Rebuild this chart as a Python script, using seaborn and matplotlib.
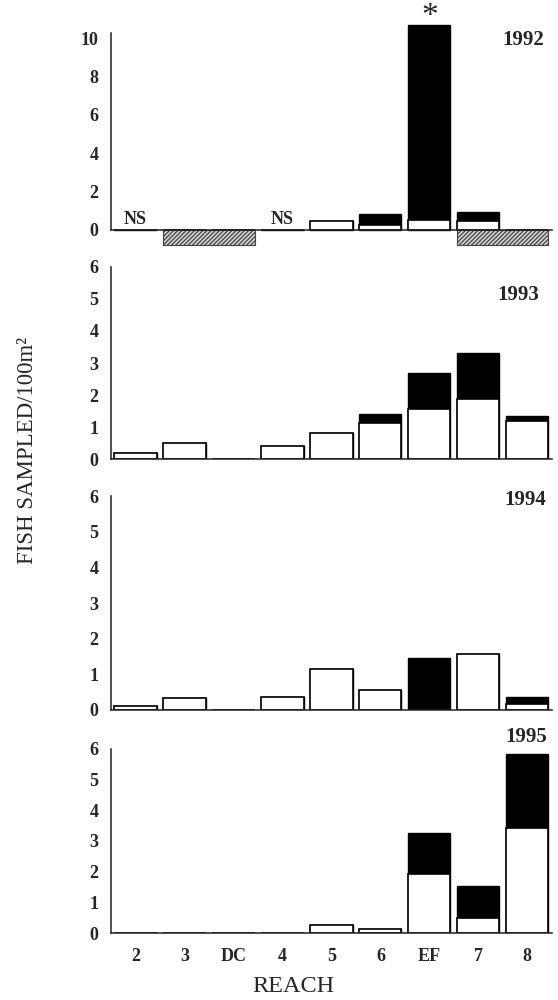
import matplotlib
matplotlib.use("Agg")
import matplotlib.pyplot as plt
import seaborn as sns
import numpy as np

# ---------------- data ----------------
reaches = ["2", "3", "DC", "4", "5", "6", "EF", "7", "8"]
years = ["1992", "1993", "1994", "1995"]

# lower (white) portion and total (white + black) of each stacked bar
white_1992 = [0, 0, 0, 0, 0.48, 0.25, 0.52, 0.45, 0]
total_1992 = [0, 0, 0, 0, 0.48, 0.82, 10.7, 0.95, 0]
white_1993 = [0.21, 0.50, 0, 0.42, 0.83, 1.12, 1.58, 1.89, 1.18]
total_1993 = [0.21, 0.50, 0, 0.42, 0.83, 1.41, 2.68, 3.30, 1.36]
white_1994 = [0.11, 0.35, 0, 0.37, 1.16, 0.57, 0, 1.58, 0.17]
total_1994 = [0.11, 0.35, 0, 0.37, 1.16, 0.57, 1.45, 1.58, 0.37]
white_1995 = [0, 0, 0, 0, 0.25, 0.13, 1.93, 0.49, 3.42]
total_1995 = [0, 0, 0, 0, 0.25, 0.13, 3.26, 1.52, 5.84]

not_sampled_1992 = ["2", "4"]
hatched_groups_1992 = [("3", "DC"), ("7", "8")]
hatched_depth_1992 = -0.78
starred_1992 = "EF"

yticks_1992 = [0, 2, 4, 6, 8, 10]
yticks_other = [0, 1, 2, 3, 4, 5, 6]

# ---------------- style ----------------
sns.set_style("white")
plt.rcParams["font.family"] = ["Liberation Serif", "DejaVu Serif"]
plt.rcParams["hatch.linewidth"] = 0.9

fig = plt.figure(figsize=(5.58, 10), dpi=100)

left, width = 0.199, 0.790
panels = [
    # (white, total, ylim, yticks, axes rect bottom, height, year-label pos)
    (white_1992, total_1992, (-0.9, 11.0), yticks_1992, 0.753, 0.228, (0.934, 0.908)),
    (white_1993, total_1993, (0, 6.05), yticks_other, 0.5407, 0.1942, (0.923, 0.846)),
    (white_1994, total_1994, (0, 6.05), yticks_other, 0.290, 0.2154, (0.939, 0.975)),
    (white_1995, total_1995, (0, 6.05), yticks_other, 0.067, 0.1857, (0.943, 1.055)),
]

bar_w = 0.86
tick_font = dict(fontsize=13, fontweight="bold")

axes = []
for i, (white, total, ylim, yt, bottom, height, ypos) in enumerate(panels):
    ax = fig.add_axes([left, bottom, width, height])
    axes.append(ax)
    sns.barplot(x=reaches, y=total, order=reaches, color="black", saturation=1,
                width=bar_w, edgecolor="black", linewidth=1.0, ax=ax)
    sns.barplot(x=reaches, y=white, order=reaches, color="white", saturation=1,
                width=bar_w, edgecolor="black", linewidth=1.2, ax=ax)
    ax.set_xlim(-0.5, len(reaches) - 0.5)
    ax.set_ylim(*ylim)
    ax.set_yticks(yt)
    ax.set_yticklabels([str(v) for v in yt], **tick_font)
    for s in ["top", "right"]:
        ax.spines[s].set_visible(False)
    ax.spines["bottom"].set_position(("data", 0))
    ax.spines["left"].set_bounds(0, yt[-1] + (0.25 if i == 0 else 0.0))
    for s in ["left", "bottom"]:
        ax.spines[s].set_linewidth(1.1)
        ax.spines[s].set_color("#222222")
    ax.tick_params(axis="y", length=0, pad=9)
    ax.tick_params(axis="x", length=0, pad=11)
    ax.set_xlabel("")
    ax.set_ylabel("")
    if i < 3:
        ax.set_xticklabels([])
    else:
        ax.set_xticks(range(len(reaches)))
        ax.set_xticklabels(reaches, **tick_font)
    ax.text(ypos[0], ypos[1], years[i], transform=ax.transAxes, ha="center",
            va="center", fontsize=15, fontweight="bold", clip_on=False)
    ax.set_facecolor("white")

# 1992 extras
ax0 = axes[0]
for r in not_sampled_1992:
    ax0.annotate("NS", (reaches.index(r), 0), xytext=(0, 1), textcoords="offset points",
                 ha="center", va="bottom", fontsize=13, fontweight="bold")
for a, b in hatched_groups_1992:
    ia, ib = reaches.index(a), reaches.index(b)
    ax0.bar((ia + ib) / 2, hatched_depth_1992, width=(ib - ia) + 0.86,
            color="#d4d4d4", hatch="////////", edgecolor="#444444", linewidth=0.8)
ax0.annotate("*", (reaches.index(starred_1992), max(total_1992)), xytext=(0, -5),
             textcoords="offset points", ha="center", va="bottom", fontsize=24)

fig.text(28 / 558, 0.55, "FISH SAMPLED/100m²", rotation=90, ha="center",
         va="center", fontsize=16.5)
fig.text(0.525, 0.014, "REACH", ha="center", va="center", fontsize=17.5)

fig.savefig("out.png", dpi=100, facecolor="white")
